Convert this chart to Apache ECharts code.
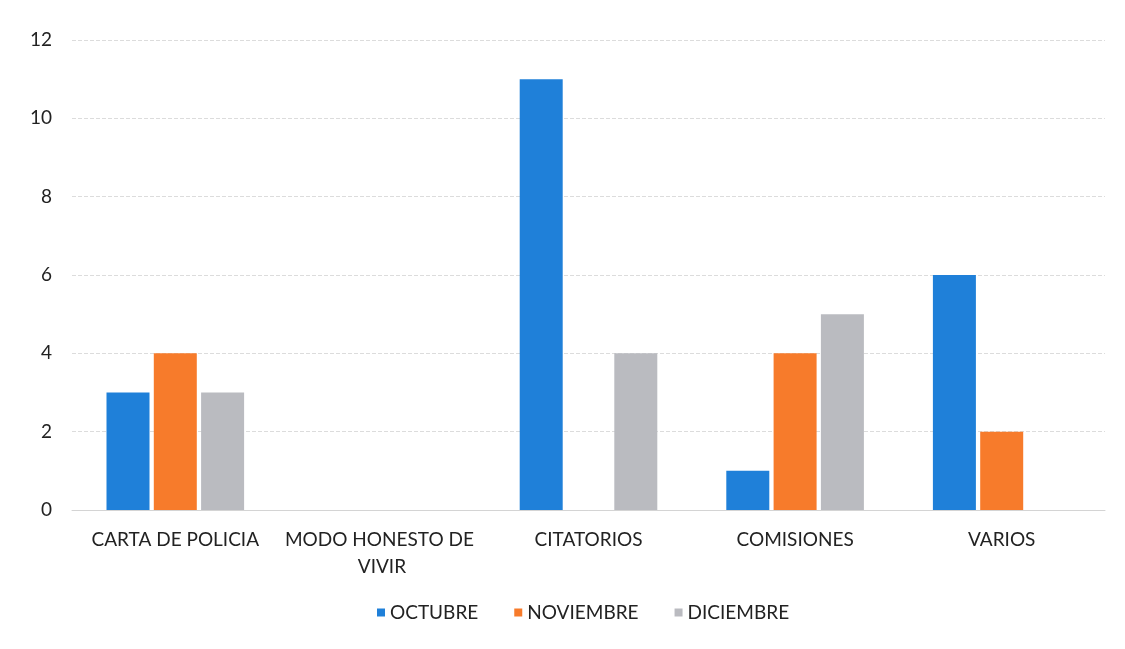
<!DOCTYPE html>
<html>
<head>
<meta charset="utf-8">
<script src="https://cdn.jsdelivr.net/npm/echarts@6/dist/echarts.min.js"></script>
<style>
  html, body { margin: 0; padding: 0; background: #fff; }
  #chart { width: 1125px; height: 649px; }
</style>
</head>
<body>
<div id="chart"></div>
<script>
const categories = ['CARTA DE POLICIA', 'MODO HONESTO DE VIVIR', 'CITATORIOS', 'COMISIONES', 'VARIOS']
const seriesNames = ['OCTUBRE', 'NOVIEMBRE', 'DICIEMBRE']
const octubre = [3, 0, 11, 1, 6]
const noviembre = [4, 0, 0, 4, 2]
const diciembre = [3, 0, 4, 5, 0]
const colors = ['#1f80d9', '#f77b2b', '#babbc0']

const chart = echarts.init(document.getElementById('chart'))
const font = 'Lato, "Open Sans", sans-serif'

const option = {
  textStyle: { fontFamily: font },
  color: colors,
  grid: { left: 72, right: 20, top: 40, bottom: 139 },
  legend: {
    bottom: 22,
    left: 372,
    icon: 'rect',
    itemWidth: 8,
    itemHeight: 8,
    itemGap: 36,
    textStyle: { fontSize: 19, color: '#222', fontFamily: font },
    data: seriesNames,
  },
  xAxis: {
    type: 'category',
    data: categories,
    axisLine: { show: true, lineStyle: { color: '#d4d4d4' } },
    axisTick: { show: false },
    axisLabel: {
      fontSize: 19,
      color: '#222',
      margin: 16,
      width: 200,
      overflow: 'break',
      lineHeight: 27,
      interval: 0,
    },
  },
  yAxis: {
    type: 'value',
    min: 0,
    max: 12,
    interval: 2,
    axisLine: { show: false },
    axisTick: { show: false },
    axisLabel: { fontSize: 19, color: '#222', margin: 20 },
    splitLine: { lineStyle: { color: '#dcdcdc', type: 'dashed' } },
  },
  series: [
    { name: seriesNames[0], type: 'bar', data: octubre, barWidth: 43, barGap: '10%' },
    { name: seriesNames[1], type: 'bar', data: noviembre, barWidth: 43, barGap: '10%' },
    { name: seriesNames[2], type: 'bar', data: diciembre, barWidth: 43, barGap: '10%' },
  ],
}

chart.setOption(option)
</script>
</body>
</html>
